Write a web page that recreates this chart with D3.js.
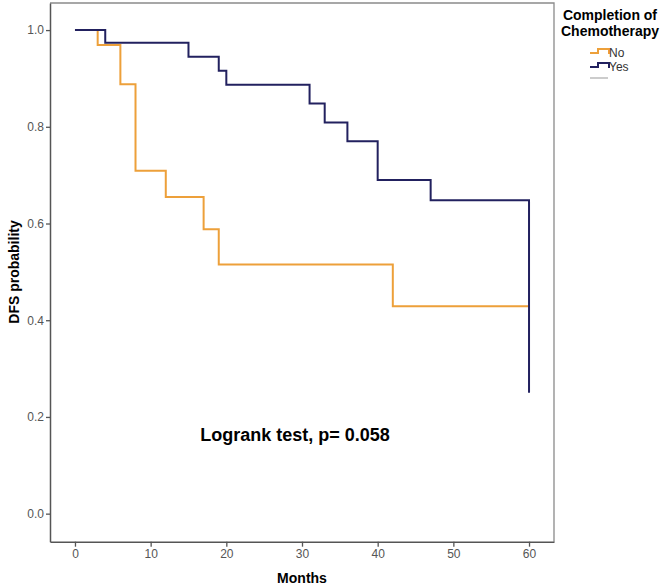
<!DOCTYPE html>
<html>
<head>
<meta charset="utf-8">
<script src="https://cdn.jsdelivr.net/npm/d3@7"></script>
<style>
  body { margin: 0; background: #fff; }
  text { font-family: "Liberation Sans", Arial, sans-serif; }
</style>
</head>
<body>
<div id="chart"></div>
<script>
// Kaplan-Meier steps
var noTimes = [0, 3, 6, 8, 12, 17, 19, 42, 60];
var noSurv = [1.0, 0.969, 0.888, 0.709, 0.655, 0.588, 0.515, 0.429, 0.429];
var yesTimes = [0, 4, 15, 19, 20, 31, 33, 36, 40, 47, 60];
var yesSurv = [1.0, 0.974, 0.945, 0.916, 0.887, 0.848, 0.809, 0.770, 0.690, 0.648, 0.25];
var groupNames = ["No", "Yes"];
var groupColors = ["#eda03a", "#22215f"];
var xTicks = [0, 10, 20, 30, 40, 50, 60];
var yTicks = [0, 0.2, 0.4, 0.6, 0.8, 1.0];
var legendTitle = ["Completion of", "Chemotherapy"];
var annotation = "Logrank test, p= 0.058";

var width = 671, height = 587;
var plot = {left: 50, right: 554, top: 3, bottom: 541.7};

var svg = d3.select("#chart").append("svg")
    .attr("width", width)
    .attr("height", height);

var x = d3.scaleLinear().domain([-3.3, 63.3]).range([plot.left, plot.right]);
var y = d3.scaleLinear().domain([-0.058, 1.056]).range([plot.bottom, plot.top]);

// frame (top and right)
svg.append("path")
    .attr("d", "M" + plot.left + "," + plot.top + "H" + plot.right + "V" + plot.bottom)
    .attr("fill", "none")
    .attr("stroke", "#8a8a8a")
    .attr("stroke-width", 1.3);

// x axis
var xaxis = svg.append("g")
    .attr("transform", "translate(0," + plot.bottom + ")")
    .call(d3.axisBottom(x).tickValues(xTicks).tickSize(5).tickSizeOuter(0).tickPadding(3));

// y axis
var yaxis = svg.append("g")
    .attr("transform", "translate(" + plot.left + ",0)")
    .call(d3.axisLeft(y).tickValues(yTicks).tickFormat(d3.format(".1f")).tickSize(4).tickSizeOuter(0).tickPadding(2));

[xaxis, yaxis].forEach(function(a) {
  a.select(".domain").attr("stroke", "#555").attr("stroke-width", 1.5);
  a.selectAll(".tick line").attr("stroke", "#555").attr("stroke-width", 1.3);
  a.selectAll(".tick text")
    .attr("fill", "#555")
    .style("font-size", "12px")
    .style("font-family", "'Liberation Sans', Arial, sans-serif");
});

// axis titles
svg.append("text")
    .attr("x", x(30))
    .attr("y", 583)
    .attr("text-anchor", "middle")
    .style("font-size", "14px")
    .style("font-weight", "bold")
    .text("Months");

svg.append("text")
    .attr("transform", "translate(19,272) rotate(-90)")
    .attr("text-anchor", "middle")
    .style("font-size", "14px")
    .style("font-weight", "bold")
    .text("DFS probability");

// survival curves
var line = d3.line()
    .x(function(d) { return x(d[0]); })
    .y(function(d) { return y(d[1]); })
    .curve(d3.curveStepAfter);

var series = [d3.zip(noTimes, noSurv), d3.zip(yesTimes, yesSurv)];

svg.selectAll("path.km")
    .data(series)
    .enter().append("path")
    .attr("class", "km")
    .attr("d", line)
    .attr("fill", "none")
    .attr("stroke", function(d, i) { return groupColors[i]; })
    .attr("stroke-width", 2);

// annotation
svg.append("text")
    .attr("x", 295)
    .attr("y", 441)
    .attr("text-anchor", "middle")
    .style("font-size", "18px")
    .style("font-weight", "bold")
    .text(annotation);

// legend
var legend = svg.append("g");
legend.selectAll("text.title")
    .data(legendTitle)
    .enter().append("text")
    .attr("class", "title")
    .attr("x", 610)
    .attr("y", function(d, i) { return 20 + i * 16; })
    .attr("text-anchor", "middle")
    .style("font-size", "14px")
    .style("font-weight", "bold")
    .text(function(d) { return d; });

var items = legend.selectAll("g.item")
    .data(groupNames)
    .enter().append("g")
    .attr("class", "item")
    .attr("transform", function(d, i) { return "translate(590," + (53 + i * 14) + ")"; });

items.append("path")
    .attr("d", "M0,0H8V-4H19V1")
    .attr("fill", "none")
    .attr("stroke", function(d, i) { return groupColors[i]; })
    .attr("stroke-width", 2);

items.append("text")
    .attr("x", 19)
    .attr("y", 4)
    .style("font-size", "12px")
    .attr("fill", "#333")
    .text(function(d) { return d; });

legend.append("line")
    .attr("x1", 590).attr("x2", 608)
    .attr("y1", 78).attr("y2", 78)
    .attr("stroke", "#bbb")
    .attr("stroke-width", 1.5);
</script>
</body>
</html>
